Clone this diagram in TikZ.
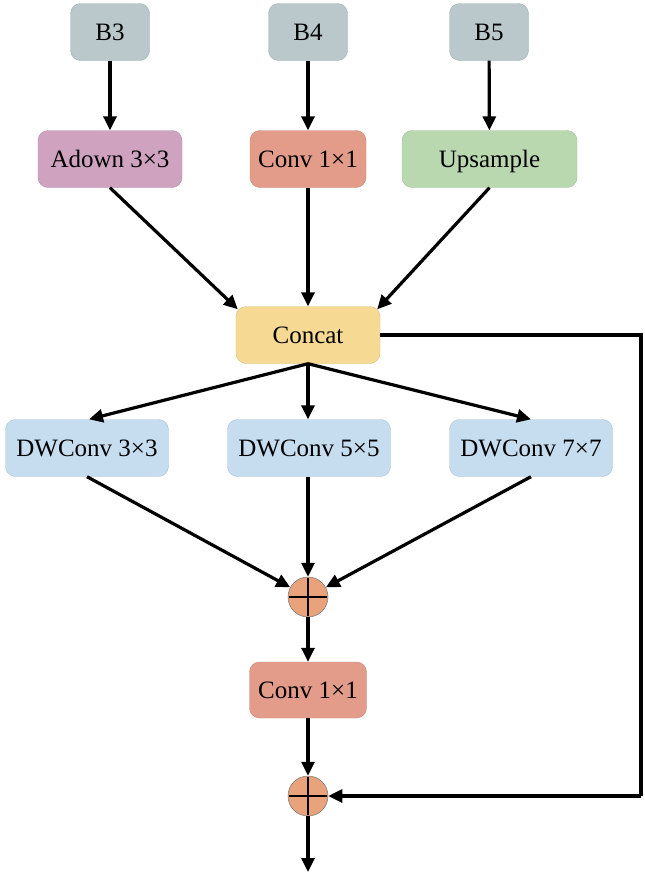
\documentclass[tikz,border=0pt]{standalone}
\usepackage{fontspec}
\setmainfont{Liberation Serif}
\usetikzlibrary{arrows.meta}
\definecolor{cB}{HTML}{BAC8CB}
\definecolor{cAd}{HTML}{CFA2C0}
\definecolor{cConv}{HTML}{E39C89}
\definecolor{cUp}{HTML}{B9D8B0}
\definecolor{cCat}{HTML}{F6D993}
\definecolor{cDW}{HTML}{C6DDF0}
\definecolor{cPlus}{HTML}{E8A37D}
\tikzset{
  blk/.style={rounded corners=10pt, draw=#1!88!black, line width=0.4pt, fill=#1,
    inner sep=0pt, minimum height=57pt, text height=18pt, text depth=2pt,
    font=\fontsize{25}{28}\selectfont},
  plus/.style={circle, draw=black!55, line width=0.5pt, fill=cPlus, minimum size=40pt, inner sep=0pt},
  arr/.style={line width=3.2pt, -{Triangle[length=14pt,width=13pt]}},
  ln/.style={line width=3.2pt}
}
\begin{document}
\begin{tikzpicture}[x=1pt,y=-1pt]
\useasboundingbox (0,0) rectangle (645,873);
\node[blk=cB, minimum width=79pt] (b3) at (110,32) {B3};
\node[blk=cB, minimum width=79pt] (b4) at (308,32) {B4};
\node[blk=cB, minimum width=79pt] (b5) at (489,32) {B5};
\node[blk=cAd, minimum width=144pt] (ad) at (110,159) {Adown 3×3};
\node[blk=cConv, minimum width=116pt] (cv1) at (308,159) {Conv 1×1};
\node[blk=cUp, minimum width=175pt] (up) at (489.5,159) {Upsample};
\node[blk=cCat, minimum width=144pt] (cat) at (308,335) {Concat};
\node[blk=cDW, minimum width=163pt] (dw3) at (87,448) {DWConv 3×3};
\node[blk=cDW, minimum width=163pt] (dw5) at (309,448) {DWConv 5×5};
\node[blk=cDW, minimum width=163pt] (dw7) at (531,448) {DWConv 7×7};
\node[plus] (p1) at (308,597) {};
\node[blk=cConv, minimum width=117pt, minimum height=56pt] (cv2) at (308,690) {Conv 1×1};
\node[plus] (p2) at (308,796) {};
\coordinate (out) at (308,872);
\coordinate (fbA) at (641,335);
\coordinate (fbB) at (641,796);
\foreach \p in {p1,p2}{
  \draw[line width=1.5pt] ([yshift=-1.5pt]\p.north) -- ([yshift=1.5pt]\p.south);
  \draw[line width=1.5pt] ([xshift=1.5pt]\p.west) -- ([xshift=-1.5pt]\p.east);
}
\draw[arr] (b3) -- (ad);
\draw[arr] (b4) -- (cv1);
\draw[arr] (b5) -- (up);
\draw[arr] (ad.south) -- ([shift={(2pt,-3pt)}]cat.north west);
\draw[arr] (cv1) -- (cat);
\draw[arr] (up.south) -- ([shift={(-3pt,-3pt)}]cat.north east);
\draw[arr] (cat.south) -- ([xshift=2pt]dw3.north);
\draw[arr] (cat.south) -- (dw5.north -| cat.south);
\draw[arr] (cat.south) -- ([xshift=0pt]dw7.north);
\draw[arr] (dw3.south) -- (p1);
\draw[arr] (dw5.south -| p1) -- (p1);
\draw[arr] (dw7.south) -- (p1);
\draw[arr] (p1) -- (cv2);
\draw[arr] (cv2) -- (p2);
\draw[arr] (p2) -- (out);
\draw[ln] (cat.east) -- (fbA) -- (fbB);
\draw[arr] (fbB) -- (p2);
\end{tikzpicture}
\end{document}
